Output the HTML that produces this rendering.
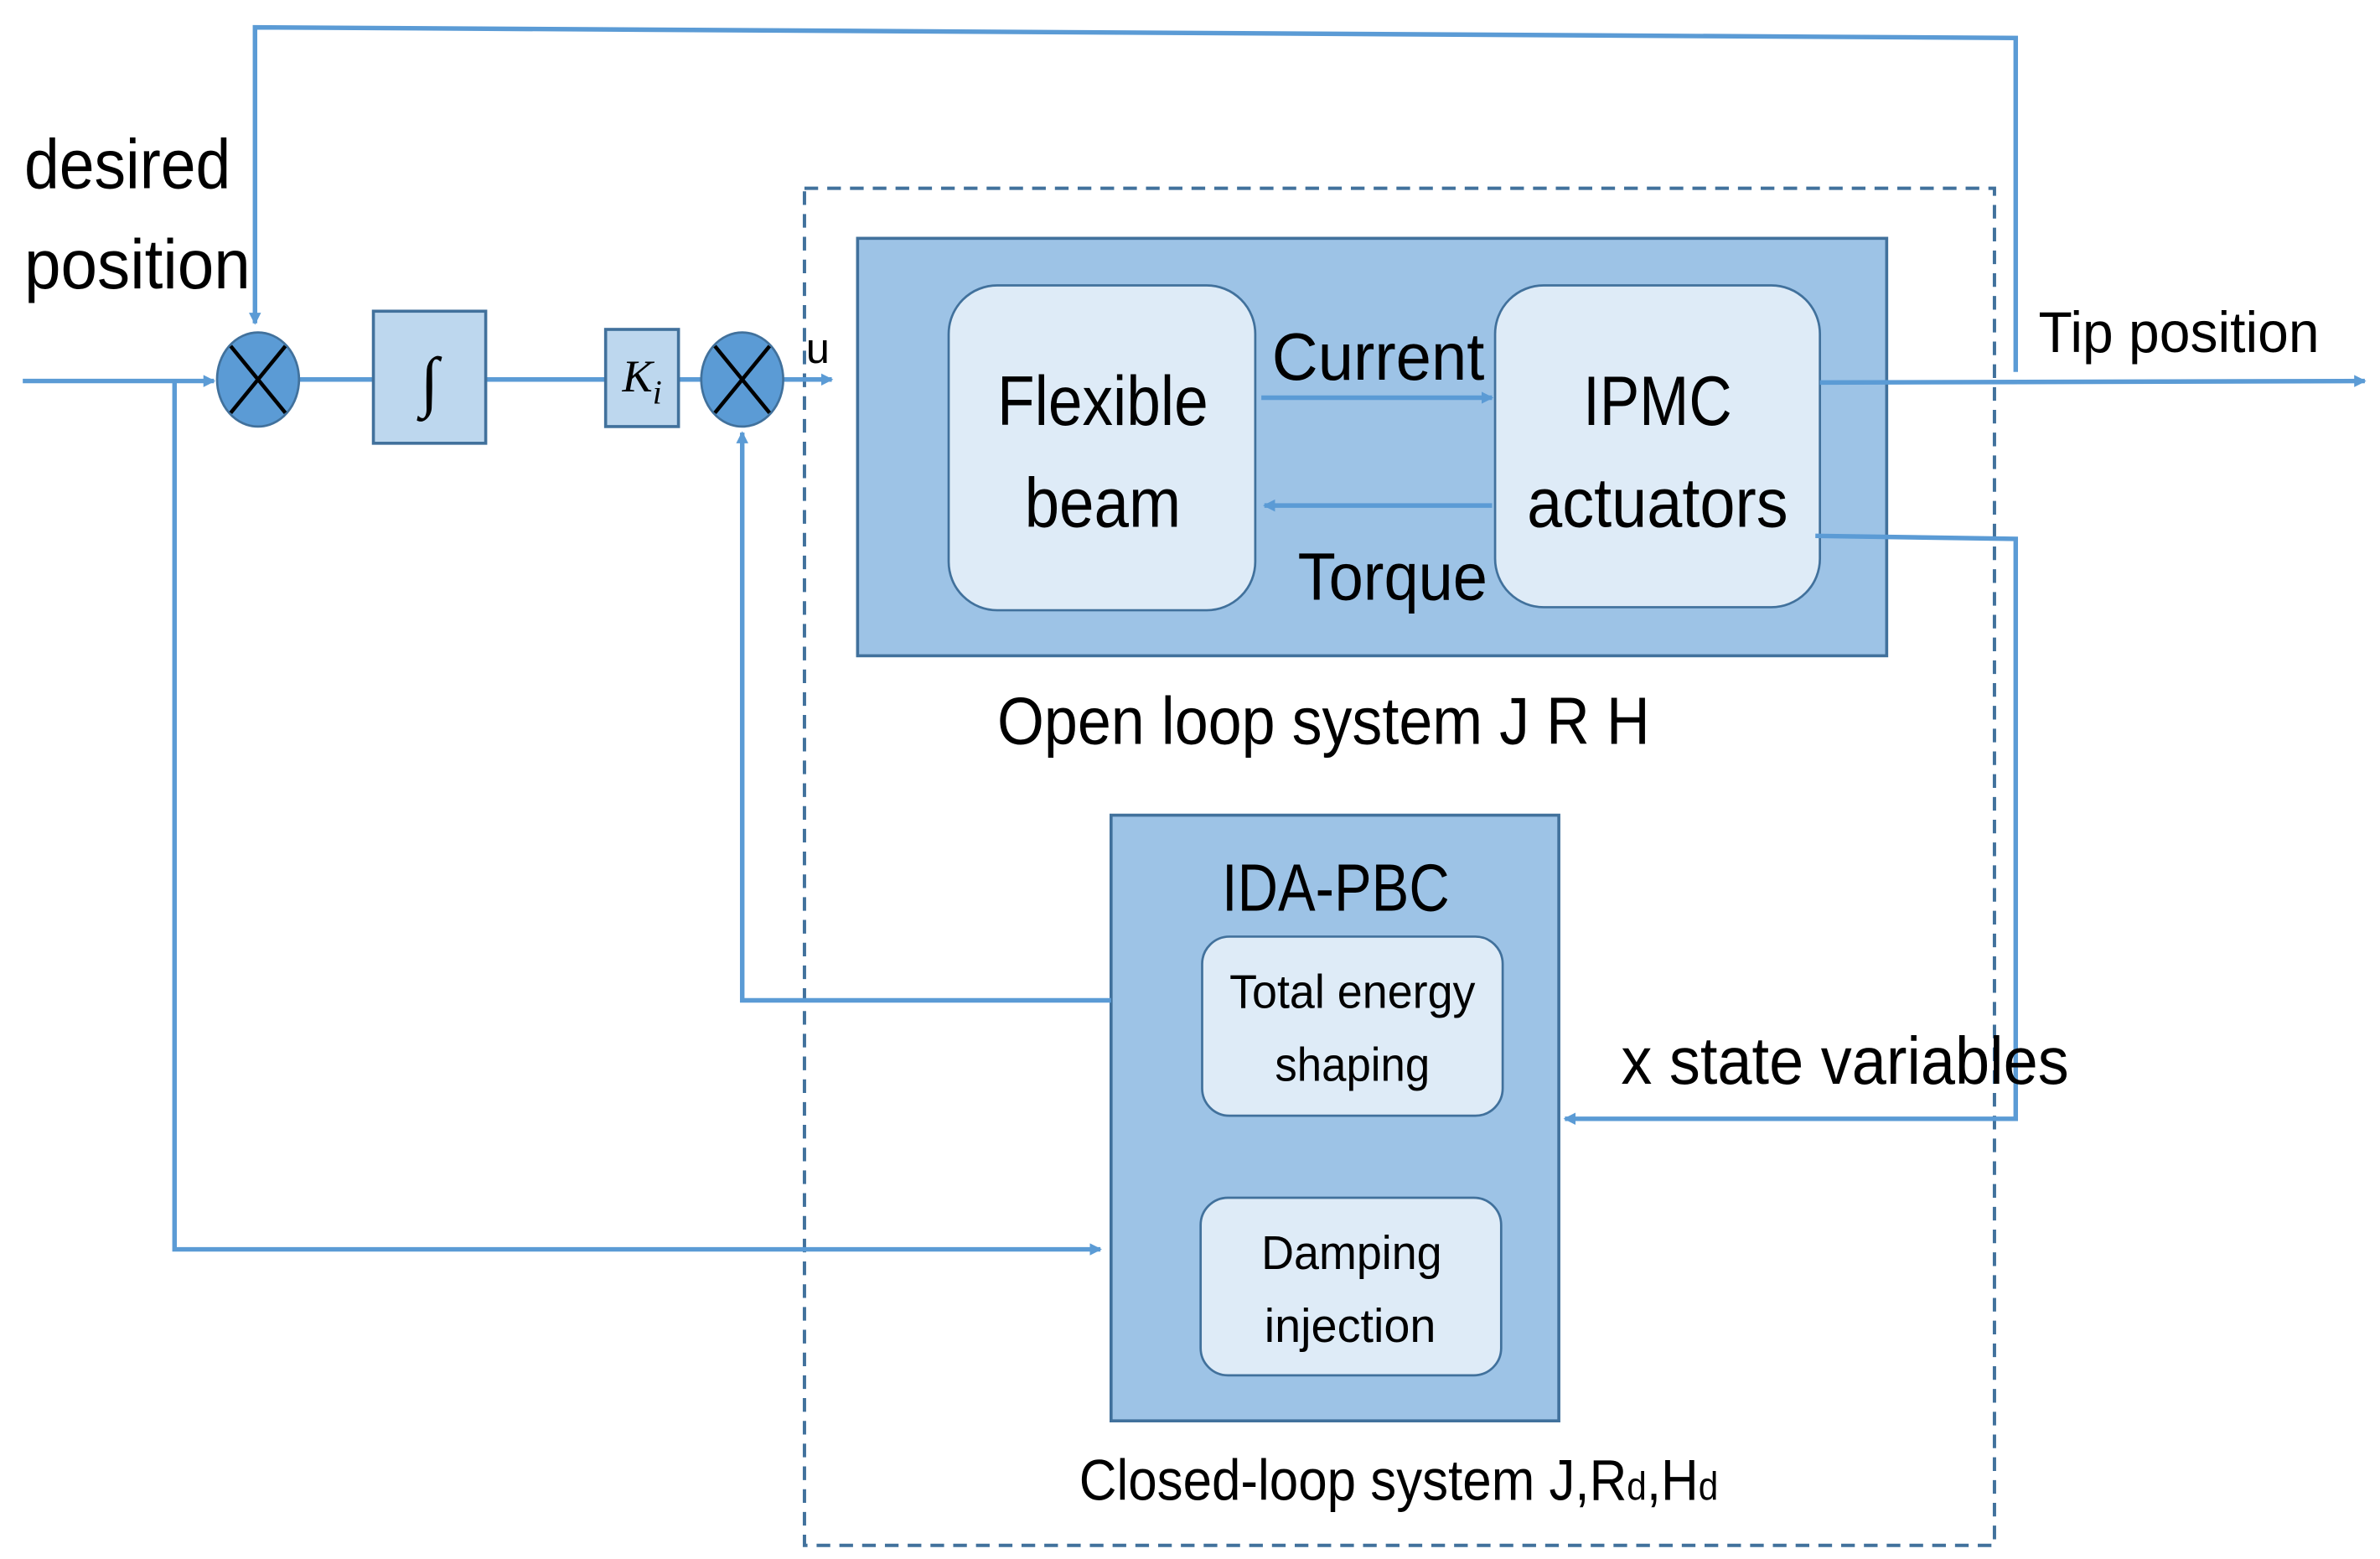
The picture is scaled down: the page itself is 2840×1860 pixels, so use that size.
<!DOCTYPE html>
<html><head><meta charset="utf-8"><style>
html,body{margin:0;padding:0;background:#fff;}
svg{display:block;}
text{font-family:"Liberation Sans",sans-serif;fill:#000;}
</style></head><body>
<svg width="2840" height="1860" viewBox="0 0 1568 1027" preserveAspectRatio="none" xmlns="http://www.w3.org/2000/svg">
<defs>
<marker id="a" markerWidth="8" markerHeight="8" refX="7" refY="4" orient="auto" markerUnits="userSpaceOnUse">
<path d="M0,0 L8,4 L0,8 z" fill="#5b9bd5"/></marker>
</defs>
<!-- dashed box -->
<rect x="530" y="124" width="784" height="894" fill="none" stroke="#41719c" stroke-width="2.2" stroke-dasharray="9,6"/>
<!-- open loop -->
<rect x="565" y="157" width="678" height="275" fill="#9dc3e6" stroke="#41719c" stroke-width="2"/>
<rect x="625" y="188" width="202" height="214" rx="32" fill="#deebf7" stroke="#41719c" stroke-width="1.5"/>
<rect x="985" y="188" width="214" height="212" rx="32" fill="#deebf7" stroke="#41719c" stroke-width="1.5"/>
<!-- IDA -->
<rect x="732" y="537" width="295" height="399" fill="#9dc3e6" stroke="#41719c" stroke-width="2"/>
<rect x="792" y="617" width="198" height="118" rx="18" fill="#deebf7" stroke="#41719c" stroke-width="1.5"/>
<rect x="791" y="789" width="198" height="117" rx="18" fill="#deebf7" stroke="#41719c" stroke-width="1.5"/>
<g fill="none" stroke="#5b9bd5" stroke-width="3">
<polyline points="1328,245 1328,25 168,18 168,213" marker-end="url(#a)"/>
<line x1="15" y1="251" x2="141" y2="251" marker-end="url(#a)"/>
<line x1="197" y1="250" x2="246" y2="250"/>
<line x1="320" y1="250" x2="399" y2="250"/>
<line x1="447" y1="250" x2="462" y2="250"/>
<line x1="516" y1="250" x2="548" y2="250" marker-end="url(#a)"/>
<polyline points="115,251 115,823 725,823" marker-end="url(#a)"/>
<polyline points="732,659 489,659 489,285" marker-end="url(#a)"/>
<line x1="831" y1="262" x2="983" y2="262" marker-end="url(#a)"/>
<line x1="983" y1="333" x2="833" y2="333" marker-end="url(#a)"/>
<line x1="1199" y1="252" x2="1558" y2="251" marker-end="url(#a)"/>
<polyline points="1196,353 1328,355 1328,737 1031,737" marker-end="url(#a)"/>
</g>
<!-- blocks -->
<rect x="246" y="205" width="74" height="87" fill="#bdd7ee" stroke="#41719c" stroke-width="2"/>
<rect x="399" y="217" width="48" height="64" fill="#bdd7ee" stroke="#41719c" stroke-width="2"/>
<ellipse cx="170" cy="250" rx="27" ry="31" fill="#5b9bd5" stroke="#41719c" stroke-width="1.5"/>
<ellipse cx="489" cy="250" rx="27" ry="31" fill="#5b9bd5" stroke="#41719c" stroke-width="1.5"/>
<g stroke="#000" stroke-width="2.5">
<line x1="152" y1="228" x2="188" y2="272"/><line x1="188" y1="228" x2="152" y2="272"/>
<line x1="471" y1="228" x2="507" y2="272"/><line x1="507" y1="228" x2="471" y2="272"/>
</g>
<text x="283" y="266" font-style="italic" font-size="44" text-anchor="middle" style="font-family:'Liberation Serif',serif">∫</text>
<text x="423" y="258" font-size="30" text-anchor="middle" font-style="italic" style="font-family:'Liberation Serif',serif">K<tspan font-size="22" dy="8">i</tspan></text>
<g lengthAdjust="spacingAndGlyphs">
<text x="16" y="124" font-size="46" textLength="136" lengthAdjust="spacingAndGlyphs">desired</text>
<text x="16" y="190" font-size="46" textLength="149" lengthAdjust="spacingAndGlyphs">position</text>
<text x="531" y="239" font-size="28">u</text>
<text x="657" y="280" font-size="46" textLength="139" lengthAdjust="spacingAndGlyphs">Flexible</text>
<text x="675" y="347" font-size="46" textLength="103" lengthAdjust="spacingAndGlyphs">beam</text>
<text x="1043" y="280" font-size="46" textLength="98" lengthAdjust="spacingAndGlyphs">IPMC</text>
<text x="1006" y="347" font-size="46" textLength="172" lengthAdjust="spacingAndGlyphs">actuators</text>
<text x="838" y="250" font-size="44" textLength="140" lengthAdjust="spacingAndGlyphs">Current</text>
<text x="855" y="395" font-size="44" textLength="125" lengthAdjust="spacingAndGlyphs">Torque</text>
<text x="1343" y="232" font-size="38" textLength="185" lengthAdjust="spacingAndGlyphs">Tip position</text>
<text x="657" y="490" font-size="44" textLength="430" lengthAdjust="spacingAndGlyphs">Open loop system J R H</text>
<text x="805" y="600" font-size="44" textLength="150" lengthAdjust="spacingAndGlyphs">IDA-PBC</text>
<text x="810" y="664" font-size="31" textLength="162" lengthAdjust="spacingAndGlyphs">Total energy</text>
<text x="840" y="712" font-size="31" textLength="102" lengthAdjust="spacingAndGlyphs">shaping</text>
<text x="831" y="836" font-size="31" textLength="119" lengthAdjust="spacingAndGlyphs">Damping</text>
<text x="833" y="884" font-size="31" textLength="113" lengthAdjust="spacingAndGlyphs">injection</text>
<text x="1068" y="714" font-size="44" textLength="295" lengthAdjust="spacingAndGlyphs">x state variables</text>
<text x="711" y="988" font-size="38" textLength="421" lengthAdjust="spacingAndGlyphs">Closed-loop system J,R<tspan font-size="26">d</tspan>,H<tspan font-size="26">d</tspan></text>
</g>
</svg>
</body></html>
